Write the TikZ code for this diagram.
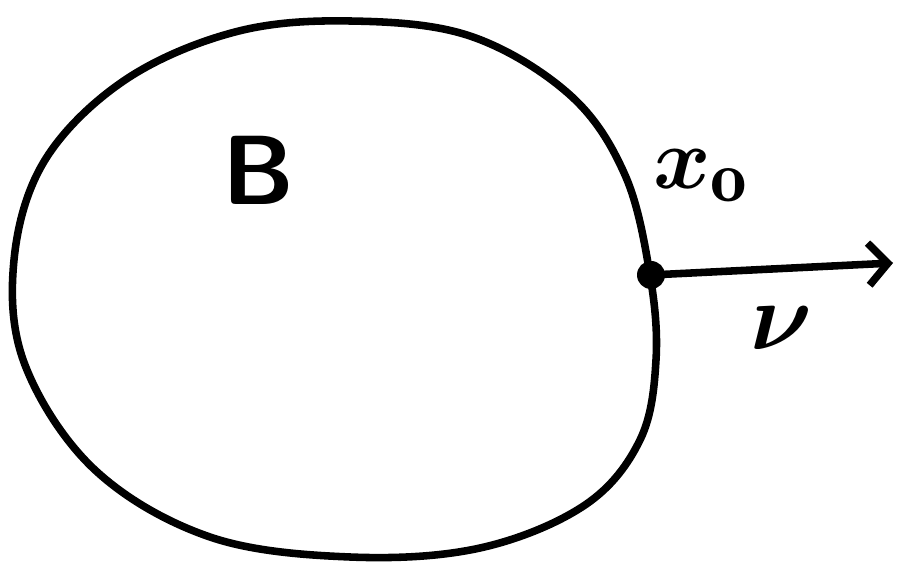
\documentclass[tikz,border=0pt]{standalone}
\usepackage{fontspec}
\usetikzlibrary{arrows.meta}
\tikzset{
  ink/.style={line width=4.3pt, line cap=round, line join=round, draw=black},
  lab/.style={inner sep=0pt, text=black}
}
\begin{document}
\begin{tikzpicture}[x=0.02cm,y=-0.02cm]
\useasboundingbox (0,0) rectangle (897,570);
\draw[ink] plot[smooth cycle, tension=0.6] coordinates {
  (350,21) (470,36) (570,95) (625,175) (650,275) (656,360) (640,440)
  (585,505) (480,548) (350,557) (210,537) (95,470) (25,365) (14,260)
  (45,160) (125,80) (235,32)};
\fill (651,275) circle (14);
\coordinate (x0) at (651,275);
\coordinate (tip) at (893,263);
\draw[ink, -{Straight Barb[length=11pt,width=24pt,line width=4.3pt]}] (x0) -- (tip);
\node[lab, font=\sffamily\bfseries\fontsize{56}{56}\selectfont] (B) at (259,170) {B};
\node[lab, scale=2.0, font=\Huge\boldmath] (xlab) at (701,176) {$x_{\mathrm{o}}$};
\node[lab, scale=2.2, font=\Huge\boldmath] (nu) at (782,328) {$\nu$};
\end{tikzpicture}
\end{document}
